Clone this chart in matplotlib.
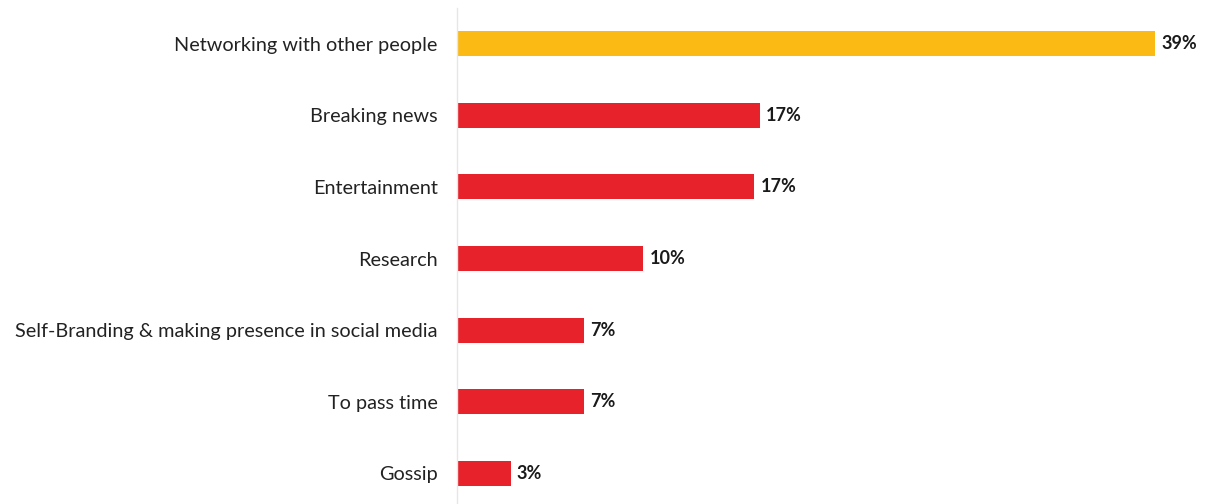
import matplotlib.pyplot as plt

# Reasons for using social media (share of respondents)
categories = ["Networking with other people", "Breaking news", "Entertainment",
              "Research", "Self-Branding & making presence in social media",
              "To pass time", "Gossip"]
values = [39, 16.9, 16.6, 10.4, 7.1, 7.1, 3.0]
value_labels = ["39%", "17%", "17%", "10%", "7%", "7%", "3%"]
colors = ["#FBBA14"] + ["#E8222B"] * 6

plt.rcParams['font.family'] = ['Lato', 'DejaVu Sans']

fig = plt.figure(figsize=(12.16, 5.04), dpi=100)
ax = fig.add_axes([457 / 1216, 0, 1 - 457 / 1216, 1 - 8 / 504])

y = range(len(categories))
ax.barh(y, values, height=0.35, color=colors)

for i, (v, lab) in enumerate(zip(values, value_labels)):
    ax.text(v + 0.35, i, lab, va='center', ha='left', fontsize=13,
            fontweight='bold', color='#1a1a1a')

ax.set_yticks(list(y))
ax.set_yticklabels(categories, fontsize=14.3, color='#222222')
ax.tick_params(axis='y', length=0, pad=14)
ax.set_xticks([])
ax.set_xlim(0, 42.4)
ax.set_ylim(6.43, -0.5)

for s in ['top', 'right', 'bottom']:
    ax.spines[s].set_visible(False)
ax.spines['left'].set_color('#e6e6e6')
ax.spines['left'].set_linewidth(1)

plt.savefig('out.png', dpi=100)
